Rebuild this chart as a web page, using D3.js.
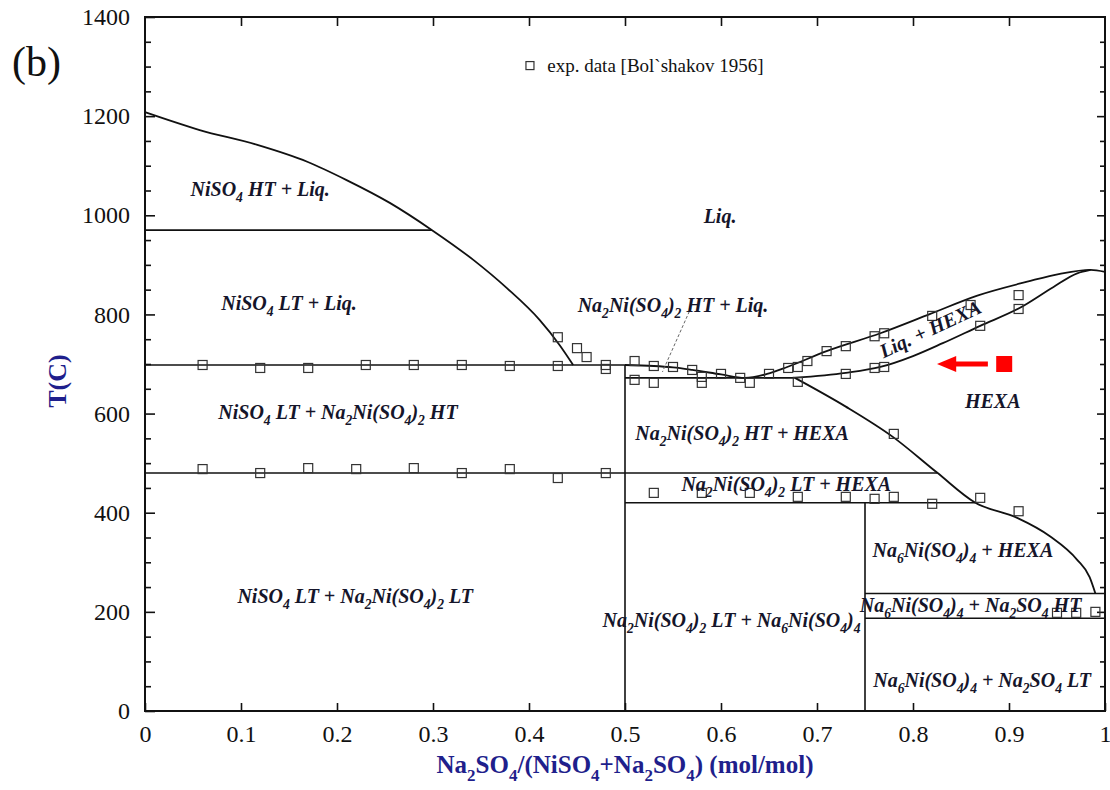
<!DOCTYPE html>
<html>
<head>
<meta charset="utf-8">
<script src="https://cdn.jsdelivr.net/npm/d3@7"></script>
<style>
  body { margin: 0; background: #fff; }
  svg { display: block; }
</style>
</head>
<body>
<div id="grafico"></div>
<script>
// limites das fases (x = fração molar Na2SO4, T em C)
const liquidusNiSO4 = [[0,1208],[0.057,1172],[0.117,1142],[0.169,1108],[0.21,1071],[0.255,1025],
  [0.299,970],[0.342,910],[0.377,853],[0.411,789],[0.432,738],[0.446,698]];
const liquidusHexa = [[0.5,698],[0.53,696],[0.55,693],[0.57,688],[0.6,679],[0.625,672],[0.648,680],
  [0.669,694],[0.71,726],[0.766,762],[0.818,801],[0.867,838],[0.919,866],[0.953,882],[0.985,890],[1,886]];
const solidusHexa = [[0.677,672],[0.73,682],[0.766,694],[0.8,716],[0.831,742],[0.87,777],[0.911,813],
  [0.946,855],[0.971,883],[0.985,890]];
const solvusHexa = [[0.677,672],[0.73,614],[0.779,553],[0.825,481],[0.865,420],[0.908,390],[0.943,352],
  [0.971,305],[0.984,270],[0.99,237]];

// linhas horizontais [x1, x2, T] e verticais [x, T1, T2]
const horizontais = [[0,0.299,970],[0,0.5,698],[0.5,0.677,672],[0,0.825,480],[0.5,0.865,420],
  [0.75,1,237],[0.75,1,187]];
const verticais = [[0.5,0,698],[0.75,0,420]];

// dados experimentais [Bol`shakov 1956]
const expX = [0.06,0.12,0.17,0.23,0.28,0.33,0.38,0.43,0.48,0.48,
  0.06,0.12,0.17,0.22,0.28,0.33,0.38,0.43,0.48,
  0.43,0.45,0.46,
  0.51,0.51,0.53,0.53,0.55,0.57,0.58,0.58,0.60,0.62,0.63,0.65,0.67,0.68,0.68,
  0.69,0.71,0.73,0.73,0.76,0.76,0.77,0.77,0.82,0.86,0.87,0.91,0.91,
  0.78,
  0.53,0.58,0.63,0.68,0.73,0.76,0.78,0.82,0.87,0.91,
  0.95,0.97,0.99];
const expT = [698,692,692,698,698,698,696,696,698,690,
  488,480,490,488,490,480,488,470,480,
  754,732,714,
  706,668,696,662,694,688,674,662,680,672,662,680,692,694,664,
  706,726,736,680,756,692,762,694,797,819,777,839,811,
  559,
  440,440,440,432,432,428,432,418,430,403,
  198,198,200];

// rótulos das regiões (x, T da linha de base, rotação)
const rotulos = [
  ["NiSO_4 HT + Liq.", 0.12, 1039, 0],
  ["NiSO_4 LT + Liq.", 0.15, 809, 0],
  ["Liq.", 0.599, 984, 0],
  ["Na_2Ni(SO_4)_2 HT + Liq.", 0.55, 805, 0],
  ["NiSO_4 LT + Na_2Ni(SO_4)_2 HT", 0.201, 589, 0],
  ["Na_2Ni(SO_4)_2 HT + HEXA", 0.622, 547, 0],
  ["Na_2Ni(SO_4)_2 LT + HEXA", 0.668, 444, 0],
  ["HEXA", 0.883, 611, 0],
  ["Liq. + HEXA", 0.821, 758, -25],
  ["Na_6Ni(SO_4)_4 + HEXA", 0.852, 311, 0],
  ["Na_6Ni(SO_4)_4 + Na_2SO_4 HT", 0.86, 200, 0],
  ["Na_6Ni(SO_4)_4 + Na_2SO_4 LT", 0.872, 48, 0],
  ["NiSO_4 LT + Na_2Ni(SO_4)_2 LT", 0.219, 218, 0],
  ["Na_2Ni(SO_4)_2 LT + Na_6Ni(SO_4)_4", 0.611, 169, 0]
];

const ticksX = [0,0.1,0.2,0.3,0.4,0.5,0.6,0.7,0.8,0.9,1];
const ticksY = [0,200,400,600,800,1000,1200,1400];
const ticksYmenor = d3.range(50, 1400, 50).filter(v => v % 200 !== 0);

// medidas
const largura = 1110, altura = 790;
const margem = {esquerda: 145, direita: 5, superior: 17, inferior: 79};
const serif = "'Liberation Serif', 'Times New Roman', serif";
const azul = "#1f1f8c";

const x = d3.scaleLinear([0, 1], [margem.esquerda, largura - margem.direita]);
const y = d3.scaleLinear([0, 1400], [altura - margem.inferior, margem.superior]);

const svg = d3.select("#grafico").append("svg")
    .attr("width", largura)
    .attr("height", altura)
    .attr("viewBox", [0, 0, largura, altura]);

// texto com subscritos: "_4" vira subscrito
function textoRico(sel, str, fs) {
  const partes = str.split(/(_\d)/).filter(p => p !== "");
  let sub = false;
  partes.forEach(p => {
    if (p.startsWith("_")) {
      sel.append("tspan").attr("font-size", fs * 0.68).attr("dy", fs * 0.3).text(p.slice(1));
      sub = true;
    } else {
      sel.append("tspan").attr("dy", sub ? -fs * 0.3 : 0).text(p);
      sub = false;
    }
  });
}

// EIXOS ---------------------------------------------------------------
const eixo = (g) => g.call(g => g.select(".domain").remove())
  .call(g => g.selectAll(".tick line").attr("stroke", "#111").attr("stroke-width", 1.6));

svg.append("g")
    .attr("transform", `translate(0,${y(0)})`)
    .call(d3.axisBottom(x).tickValues(ticksX).tickSize(-8).tickPadding(14).tickFormat(d3.format("~g")))
    .call(eixo)
    .call(g => g.selectAll("text").attr("font-family", serif).attr("font-size", 24).attr("fill", "#111"));

svg.append("g")
    .attr("transform", `translate(0,${y(1400)})`)
    .call(d3.axisTop(x).tickValues(ticksX.slice(1, -1)).tickSize(-9).tickFormat(""))
    .call(eixo);

svg.append("g")
    .attr("transform", `translate(${x(0)},0)`)
    .call(d3.axisLeft(y).tickValues(ticksY).tickSize(-10).tickPadding(15).tickFormat(d3.format("d")))
    .call(eixo)
    .call(g => g.selectAll("text").attr("font-family", serif).attr("font-size", 24).attr("fill", "#111"));

svg.append("g")
    .attr("transform", `translate(${x(0)},0)`)
    .call(d3.axisLeft(y).tickValues(ticksYmenor).tickSize(-6).tickFormat(""))
    .call(eixo);

svg.append("g")
    .attr("transform", `translate(${x(1)},0)`)
    .call(d3.axisRight(y).tickValues(ticksY.slice(1, -1)).tickSize(-8).tickFormat(""))
    .call(eixo);

svg.append("g")
    .attr("transform", `translate(${x(1)},0)`)
    .call(d3.axisRight(y).tickValues(ticksYmenor).tickSize(-5).tickFormat(""))
    .call(eixo);

// moldura
svg.append("rect")
    .attr("x", x(0)).attr("y", y(1400))
    .attr("width", x(1) - x(0)).attr("height", y(0) - y(1400))
    .attr("fill", "none").attr("stroke", "#111").attr("stroke-width", 2);

// LINHAS DE FASE --------------------------------------------------------
const linha = d3.line().x(d => x(d[0])).y(d => y(d[1])).curve(d3.curveMonotoneX);

svg.append("g")
    .attr("fill", "none").attr("stroke", "#111").attr("stroke-width", 1.8)
  .selectAll("path")
  .data([liquidusNiSO4, liquidusHexa, solidusHexa, solvusHexa])
  .join("path")
    .attr("d", linha);

svg.append("g")
    .attr("stroke", "#111").attr("stroke-width", 1.6)
  .selectAll("line")
  .data(horizontais)
  .join("line")
    .attr("x1", d => x(d[0])).attr("x2", d => x(d[1]))
    .attr("y1", d => y(d[2])).attr("y2", d => y(d[2]));

svg.append("g")
    .attr("stroke", "#111").attr("stroke-width", 1.6)
  .selectAll("line")
  .data(verticais)
  .join("line")
    .attr("x1", d => x(d[0])).attr("x2", d => x(d[0]))
    .attr("y1", d => y(d[1])).attr("y2", d => y(d[2]));

// linha tracejada do rótulo Na2Ni(SO4)2 HT + Liq.
svg.append("line")
    .attr("x1", x(0.567)).attr("y1", y(806))
    .attr("x2", x(0.539)).attr("y2", y(684))
    .attr("stroke", "#666").attr("stroke-width", 1).attr("stroke-dasharray", "3,2");

// DADOS EXPERIMENTAIS ---------------------------------------------------
const lado = 9;
svg.append("g")
    .attr("fill", "none").attr("stroke", "#333").attr("stroke-width", 1.2)
  .selectAll("rect")
  .data(d3.range(expX.length))
  .join("rect")
    .attr("x", i => x(expX[i]) - lado / 2)
    .attr("y", i => y(expT[i]) - lado / 2)
    .attr("width", lado).attr("height", lado);

// legenda
svg.append("rect")
    .attr("x", x(0.401) - 4).attr("y", y(1302) - 4)
    .attr("width", 8).attr("height", 8)
    .attr("fill", "none").attr("stroke", "#333").attr("stroke-width", 1.2);
svg.append("text")
    .attr("x", x(0.419)).attr("y", y(1290))
    .attr("font-family", serif).attr("font-size", 19).attr("fill", "#111")
    .text("exp. data [Bol`shakov 1956]");

// seta vermelha
svg.append("line")
    .attr("x1", x(0.878)).attr("x2", x(0.838))
    .attr("y1", y(700)).attr("y2", y(700))
    .attr("stroke", "#ff0000").attr("stroke-width", 5);
svg.append("path")
    .attr("d", `M${x(0.825)},${y(700)} L${x(0.845)},${y(700) - 8} L${x(0.845)},${y(700) + 8} Z`)
    .attr("fill", "#ff0000");
svg.append("rect")
    .attr("x", x(0.895) - 8).attr("y", y(700) - 8)
    .attr("width", 16).attr("height", 16)
    .attr("fill", "#ff0000");

// RÓTULOS ---------------------------------------------------------------
const fsRot = 20;
svg.append("g")
    .attr("font-family", serif).attr("font-size", fsRot)
    .attr("font-weight", "bold").attr("font-style", "italic")
    .attr("fill", "#15152a").attr("text-anchor", "middle")
  .selectAll("text")
  .data(rotulos)
  .join("text")
    .attr("transform", d => `translate(${x(d[1])},${y(d[2])}) rotate(${d[3]})`)
    .each(function(d) { textoRico(d3.select(this), d[0], fsRot); });

// títulos dos eixos
svg.append("text")
    .attr("transform", `translate(66,${(y(0) + y(1400)) / 2 + 17}) rotate(-90)`)
    .attr("font-family", serif).attr("font-size", 26).attr("font-weight", "bold")
    .attr("fill", azul).attr("text-anchor", "middle")
    .text("T(C)");

svg.append("text")
    .attr("transform", `translate(${(x(0) + x(1)) / 2},773)`)
    .attr("font-family", serif).attr("font-size", 25).attr("font-weight", "bold")
    .attr("fill", azul).attr("text-anchor", "middle")
    .call(t => textoRico(t, "Na_2SO_4/(NiSO_4+Na_2SO_4) (mol/mol)", 25));

// letra do painel
svg.append("text")
    .attr("x", 12).attr("y", 76)
    .attr("font-family", serif).attr("font-size", 42).attr("fill", "#111")
    .text("(b)");
</script>
</body>
</html>
